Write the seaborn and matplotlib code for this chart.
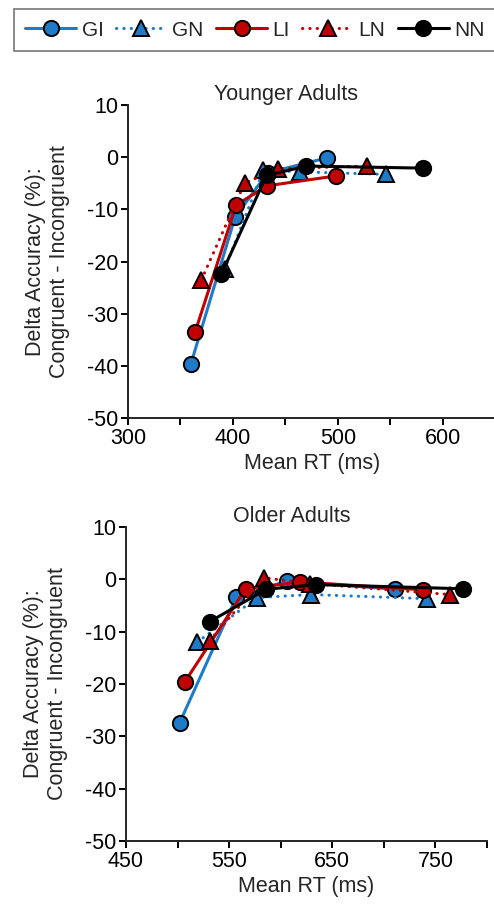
import numpy as np
import matplotlib
matplotlib.use('Agg')
import matplotlib.pyplot as plt
import pandas as pd
import seaborn as sns

# Conditions and styles
conds = ['GI', 'GN', 'LI', 'LN', 'NN']
colors = {'GI': '#1f7ac8', 'GN': '#1f7ac8', 'LI': '#c00000', 'LN': '#c00000', 'NN': '#000000'}
markers = {'GI': 'o', 'GN': '^', 'LI': 'o', 'LN': '^', 'NN': 'o'}
dashes = {'GI': '', 'GN': (0.1, 2.3), 'LI': '', 'LN': (0.1, 2.3), 'NN': ''}

# Younger adults: mean RT (ms) and delta accuracy (%) per RT bin
young_rt = {
    'GI': [360, 402, 433, 490],
    'GN': [392, 429, 464, 546],
    'LI': [364, 403, 432, 498],
    'LN': [370, 411, 443, 528],
    'NN': [389, 432, 470, 581],
}
young_acc = {
    'GI': [-39.6, -11.5, -3.0, -0.1],
    'GN': [-21.5, -2.5, -2.8, -3.3],
    'LI': [-33.5, -9.2, -5.5, -3.6],
    'LN': [-23.5, -5.0, -2.2, -1.7],
    'NN': [-22.4, -3.5, -1.7, -2.1],
}

# Older adults
old_rt = {
    'GI': [502, 557, 606, 711],
    'GN': [519, 577, 629, 742],
    'LI': [507, 566, 619, 738],
    'LN': [531, 584, 628, 764],
    'NN': [531, 586, 634, 777],
}
old_acc = {
    'GI': [-27.4, -3.4, -0.3, -1.9],
    'GN': [-12.0, -3.5, -2.9, -3.7],
    'LI': [-19.6, -1.8, -0.5, -2.0],
    'LN': [-11.7, 0.3, -0.8, -2.9],
    'NN': [-8.1, -1.9, -1.0, -1.8],
}


def to_long(rt, acc):
    rows = []
    for c in conds:
        for i, (x, y) in enumerate(zip(rt[c], acc[c])):
            rows.append({'cond': c, 'bin': i, 'rt': x, 'acc': y})
    return pd.DataFrame(rows)


sns.set_style('ticks')
plt.rcParams['font.family'] = ['Liberation Sans', 'DejaVu Sans']
plt.rcParams['axes.linewidth'] = 1.4
plt.rcParams['axes.unicode_minus'] = False

fig = plt.figure(figsize=(4.94, 9.06), dpi=100)
ax1 = fig.add_axes([0.259, 0.5386, 0.744, 0.3455])
ax2 = fig.add_axes([0.255, 0.0717, 0.731, 0.3466])

panels = [
    (ax1, to_long(young_rt, young_acc), 'Younger Adults', (300, 650), np.arange(300, 651, 50), 0.43, 3),
    (ax2, to_long(old_rt, old_acc), 'Older Adults', (450, 800), np.arange(450, 801, 50), 0.46, 0),
]

fs = 15.5
for ax, df, title, xlim, xt, tx, tpad in panels:
    sns.lineplot(data=df, x='rt', y='acc', hue='cond', style='cond',
                 hue_order=conds, style_order=conds, palette=colors,
                 markers=markers, dashes=dashes, sort=False, estimator=None,
                 units='cond', linewidth=2.2, markersize=11,
                 markeredgecolor='black', markeredgewidth=1.4, ax=ax)
    ax.set_xlim(*xlim)
    ax.set_ylim(-50, 10)
    ax.set_yticks(np.arange(-50, 11, 10))
    ax.set_xticks(xt)
    ax.set_xticklabels([str(v) if (v - xlim[0]) % 100 == 0 else '' for v in xt])
    ax.tick_params(labelsize=fs, length=5, width=1.4, colors='black', pad=2)
    ax.set_xlabel('Mean RT (ms)', fontsize=fs, labelpad=3)
    ax.set_ylabel('Delta Accuracy (%):\nCongruent - Incongruent', fontsize=fs, labelpad=12,
                  linespacing=1.2)
    ax.set_title(title, fontsize=fs, x=tx, pad=tpad)
    sns.despine(ax=ax)
    for ln in ax.lines:
        ln.set_dash_capstyle('round')

handles, labels = ax1.get_legend_handles_labels()
ax1.get_legend().remove()
ax2.get_legend().remove()
for h in handles:
    h.set_markeredgecolor('black')
    h.set_markersize(11)
    h.set_dash_capstyle('round')
leg = fig.legend(handles, labels, loc='upper left', bbox_to_anchor=(0.028, 0.990),
                 borderaxespad=0, ncol=5, fontsize=15, frameon=True, fancybox=False,
                 handlelength=2.45, handletextpad=0.25, columnspacing=0.6,
                 borderpad=0.55, edgecolor='#555555')
leg.get_frame().set_linewidth(1.2)

fig.savefig('out.png', dpi=100)
